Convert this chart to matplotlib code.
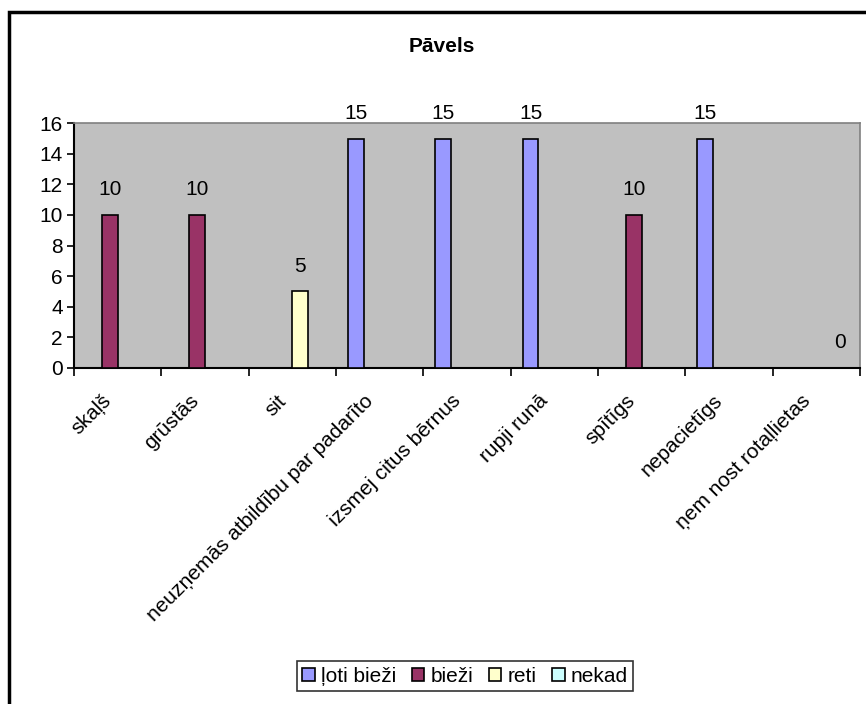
import numpy as np
import matplotlib
matplotlib.use("Agg")
import matplotlib.pyplot as plt
import matplotlib.transforms as mtransforms
from matplotlib.patches import Rectangle, Patch

plt.rcParams['font.family'] = ['Liberation Sans', 'DejaVu Sans']

categories = ["skaļš", "grūstās", "sit", "neuzņemās atbildību par padarīto",
              "izsmej citus bērnus", "rupji runā", "spītīgs", "nepacietīgs",
              "ņem nost rotaļlietas"]
nan = np.nan
loti_biezi = [nan, nan, nan, 15, 15, 15, nan, 15, nan]
biezi = [10, 10, nan, nan, nan, nan, 10, nan, nan]
reti = [nan, nan, 5, nan, nan, nan, nan, nan, nan]
nekad = [nan, nan, nan, nan, nan, nan, nan, nan, 0]
series_names = ["ļoti bieži", "bieži", "reti", "nekad"]
series_vals = [loti_biezi, biezi, reti, nekad]
colors = ["#9999FF", "#993366", "#FFFFCC", "#CCFFFF"]
yticks = [0, 2, 4, 6, 8, 10, 12, 14, 16]

FS = 15
fig = plt.figure(figsize=(8.66, 7.04), dpi=100)
W, H = 866, 704
ax = fig.add_axes([74 / W, 1 - 367.7 / H, (860 - 74) / W, (367.7 - 123.3) / H])
ax.set_facecolor("#C0C0C0")

x = np.arange(len(categories))
w = 1 / 5.5
for i, (vals, c) in enumerate(zip(series_vals, colors)):
    v = np.array(vals, dtype=float)
    xs = x + (i - 1.5) * w
    mask = ~np.isnan(v)
    ax.bar(xs[mask], v[mask], width=w, color=c, edgecolor="black", linewidth=1.2, zorder=3)
    for xi, vi in zip(xs[mask], v[mask]):
        ax.annotate(f"{int(vi)}", (xi, vi), xytext=(0, 25), textcoords="offset pixels",
                    ha="center", va="center", fontsize=FS, zorder=4)

ax.set_xlim(-0.5, len(categories) - 0.5)
ax.set_ylim(0, 16)
ax.set_yticks(yticks)
ax.set_yticklabels([str(t) for t in yticks], fontsize=FS)
ax.tick_params(axis="y", direction="out", length=5, width=1.2, pad=3)

ax.set_xticks(np.arange(len(categories) + 1) - 0.5)
ax.set_xticklabels([])
ax.set_xticks(x, minor=True)
ax.set_xticklabels(categories, minor=True, rotation=45, ha="right", va="top",
                   rotation_mode="anchor", fontsize=FS)
ax.tick_params(axis="x", which="major", direction="out", length=6, width=1.2)
ax.tick_params(axis="x", which="minor", length=0, pad=17)
shift = mtransforms.ScaledTranslation(-16 / 100, 0, fig.dpi_scale_trans)
for lab in ax.get_xticklabels(minor=True):
    lab.set_transform(lab.get_transform() + shift)

for s in ["left", "bottom"]:
    ax.spines[s].set_color("black")
    ax.spines[s].set_linewidth(1.5)
for s in ["top", "right"]:
    ax.spines[s].set_color("#808080")
    ax.spines[s].set_linewidth(1.2)

fig.text(442 / W, 1 - 47 / H, "Pāvels", ha="center", va="center",
         fontsize=FS, fontweight="bold")

handles = [Patch(facecolor=c, edgecolor="black", linewidth=1.2) for c in colors]
leg = fig.legend(handles, series_names, loc="center", bbox_to_anchor=(465 / W, 1 - 676 / H),
                 ncol=4, fontsize=FS, frameon=True, fancybox=False,
                 handlelength=0.6, handleheight=0.6, handletextpad=0.3,
                 columnspacing=0.75, borderpad=0.25, borderaxespad=0)
leg.get_frame().set_edgecolor("black")
leg.get_frame().set_linewidth(1.2)

fig.patches.append(Rectangle((9 / W, -0.05), 1.2, 1 - 12 / H + 0.05, transform=fig.transFigure,
                             fill=False, edgecolor="black", linewidth=2.5))

fig.savefig("out.png", dpi=100)
